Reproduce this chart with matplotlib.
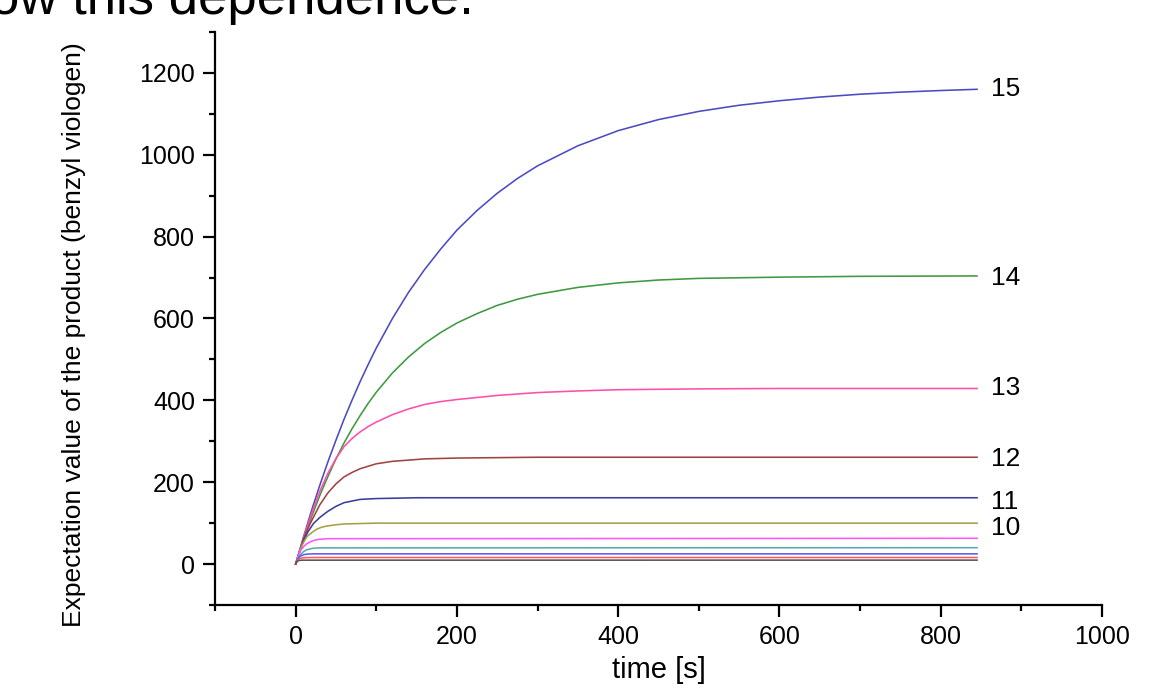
import matplotlib
matplotlib.use("Agg")
import matplotlib.pyplot as plt
from matplotlib.ticker import MultipleLocator

plt.rcParams['font.family'] = ['Liberation Sans', 'DejaVu Sans']

# time [s] and expectation values
t15 = [0, 10, 20, 30, 40, 50, 60, 70, 80, 90, 100, 120, 140, 160, 180, 200, 225, 250,
       275, 300, 350, 400, 450, 500, 550, 600, 650, 700, 750, 800, 845]
y15 = [0, 68, 133, 193, 250, 303, 354, 401, 446, 488, 528, 600, 664, 720, 770, 816, 864, 906,
       942, 973, 1022, 1059, 1086, 1106, 1121, 1132, 1141, 1148, 1153, 1157, 1160]

t14 = [0, 10, 20, 30, 40, 50, 60, 70, 80, 90, 100, 120, 140, 160, 180, 200, 225, 250,
       275, 300, 350, 400, 450, 500, 600, 700, 845]
y14 = [0, 61, 117, 168, 214, 257, 296, 331, 363, 393, 420, 467, 506, 539, 566, 589, 612, 632,
       647, 659, 676, 687, 694, 698, 701, 703, 704]

t13 = [0, 10, 20, 30, 40, 50, 60, 70, 80, 90, 100, 120, 140, 160, 180, 200, 250, 300,
       350, 400, 500, 600, 845]
y13 = [0, 66, 125, 178, 222, 258, 287, 307, 323, 336, 347, 365, 379, 390, 397, 402, 412, 419,
       423, 426, 428, 429, 429]

t12 = [0, 10, 18, 30, 40, 50, 60, 70, 80, 100, 120, 160, 200, 300, 845]
y12 = [0, 63, 99, 145, 174, 196, 213, 224, 233, 245, 251, 257, 259, 261, 261]

t11 = [0, 5, 10, 15, 22, 30, 40, 50, 60, 80, 100, 150, 845]
y11 = [0, 32, 58, 78, 99, 114, 129, 141, 150, 158, 160, 162, 162]

t10 = [0, 6, 10, 14, 20, 26, 32, 39, 50, 60, 100, 845]
y10 = [0, 38, 54, 67, 77, 85, 90, 93, 96, 98, 100, 100]

t9 = [0, 3, 6, 10, 14, 20, 27, 40, 845]
y9 = [0, 18, 33, 43, 50, 56, 60, 62, 63]

t8 = [0, 3, 6, 10, 14, 20, 27, 845]
y8 = [0, 15, 23, 31, 35, 38, 39.5, 40]

t7 = [0, 2, 4, 6, 10, 15, 25, 845]
y7 = [0, 10, 16, 19.5, 23, 24.5, 25, 25]

t6 = [0, 2, 4, 6, 10, 20, 845]
y6 = [0, 8, 12, 14, 15.5, 16, 16]

t5 = [0, 1, 2, 4, 8, 845]
y5 = [0, 5, 7, 8.8, 9.5, 9.6]

series = [(t15, y15), (t14, y14), (t13, y13), (t12, y12), (t11, y11), (t10, y10),
          (t9, y9), (t8, y8), (t7, y7), (t6, y6), (t5, y5)]
colors = ['#4b4bc4', '#3f9a3f', '#ff4fa8', '#a04343', '#3d3d9e', '#a3a045',
          '#ff55ff', '#5aaba6', '#5a5aff', '#ff5a5a', '#555555']

labels = ['15', '14', '13', '12', '11', '10']
label_y = [1161, 700, 429, 256, 152, 89]

fig = plt.figure(figsize=(11.7, 6.85), dpi=100)
ax = fig.add_axes([0.1838, 0.1168, 0.7581, 0.8365])

for (t, y), c in zip(series, colors):
    ax.plot(t, y, color=c, lw=1.15)

for lab, ly in zip(labels, label_y):
    ax.text(862, ly, lab, fontsize=19, va='center', ha='left')

ax.set_xlim(-100, 1000)
ax.set_ylim(-100, 1300)
ax.xaxis.set_major_locator(MultipleLocator(200))
ax.xaxis.set_minor_locator(MultipleLocator(100))
ax.yaxis.set_major_locator(MultipleLocator(200))
ax.yaxis.set_minor_locator(MultipleLocator(100))
ax.set_xticks([0, 200, 400, 600, 800, 1000])
ax.set_yticks([0, 200, 400, 600, 800, 1000, 1200])

for s in ['top', 'right']:
    ax.spines[s].set_visible(False)
for s in ['left', 'bottom']:
    ax.spines[s].set_linewidth(1.6)

ax.tick_params(which='both', direction='out', width=1.6, labelsize=18)
ax.tick_params(which='major', length=8.5, pad=6)
ax.tick_params(which='minor', length=4)

ax.set_xlabel('time [s]', fontsize=21, labelpad=5)
ax.set_ylabel('Expectation value of the product (benzyl viologen)', fontsize=19)
ax.yaxis.set_label_coords(-0.1454, 0.471)

# slide title fragment, cut off at the top edge as in the reference
fig.text(0.405, 0.9796, 'ow this dependence.', fontsize=38, ha='right', va='baseline')

fig.savefig('out.png', dpi=100)
